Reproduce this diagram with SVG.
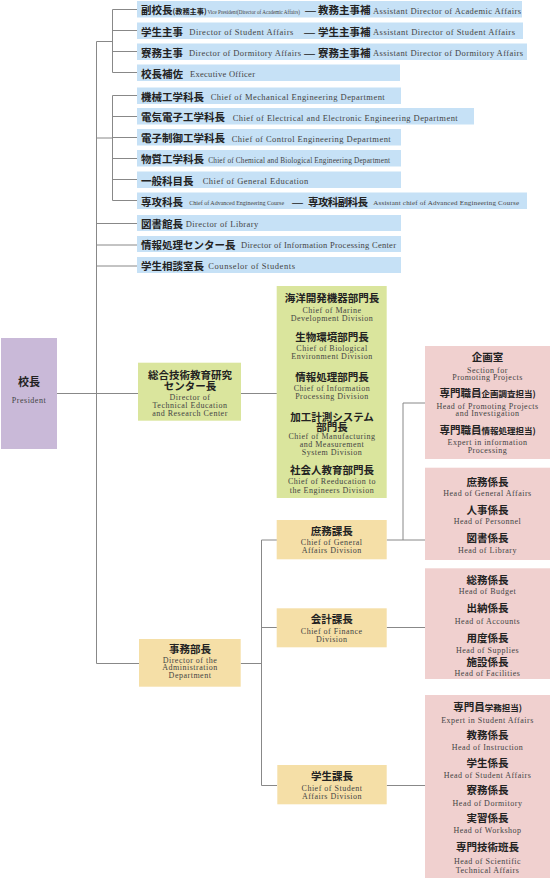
<svg xmlns="http://www.w3.org/2000/svg" width="550" height="879" viewBox="0 0 550 879">
<style>
.ln{stroke:#888;stroke-width:1;fill:none}
.bl{fill:#c6e1f6}
.pu{fill:#c9b9d8}
.gr{fill:#dae59d}
.or{fill:#f5dfa7}
.pk{fill:#f0d0cf}
.jp{font-family:"Noto Sans CJK JP","Noto Sans",sans-serif;font-size:10.5px;font-weight:bold;fill:#222}
.er{font-family:"Liberation Serif",serif;font-size:8.5px;fill:#444}
.sm{font-size:7px}
.en{font-family:"Liberation Serif",serif;font-size:8px;letter-spacing:0.5px;fill:#444;text-anchor:middle}
.dash{font-family:"Liberation Sans",sans-serif;font-size:11px;font-weight:normal}
.c{text-anchor:middle}
</style>
<g id="connectors">
<path class="ln" d="M112.5,9.5V72.5M112.5,9.5H137M112.5,30.5H137M112.5,51.5H137M112.5,72.5H137M96.5,41.5H112.5"/>
<path class="ln" d="M96.5,41.5V663.5"/>
<path class="ln" d="M112.5,95.5V200.5M112.5,95.5H137M112.5,116.5H137M112.5,137.5H137M112.5,158.5H137M112.5,179.5H137M112.5,200.5H137M96.5,138H112.5"/>
<path class="ln" d="M96.5,223.5H137M96.5,245H137M96.5,266H137"/>
<path class="ln" d="M57,393.5H277"/>
<path class="ln" d="M96.5,663.5H139M240.7,663.5H261.5M261.5,540V785.5M261.5,540H277M261.5,627.5H277M261.5,785.5H277"/>
<path class="ln" d="M386.7,540H425M403,403V540M403,403H425M386.7,627.5H425M386.7,785.5H425"/>
</g>
<g id="vice-president">
<rect class="bl" x="137" y="1" width="385" height="16.5"/>
<text class="jp" x="141" y="14">副校長<tspan style="font-size:7.2px">(教務主事)</tspan></text>
<text class="er sm" transform="translate(207.5,13.5) scale(0.73,1)" x="0" y="0">Vice President(Director of Academic Affairs)</text>
<text class="jp" x="305" y="14"><tspan class="dash">—</tspan><tspan dx="2">教務主事補</tspan></text>
<text class="er" x="373" y="13.5" textLength="148">Assistant Director of Academic Affairs</text>
</g>
<g id="student-affairs">
<rect class="bl" x="137" y="22.5" width="386" height="16.5"/>
<text class="jp" x="141" y="35.5">学生主事</text>
<text class="er" x="189.3" y="35" textLength="104">Director of Student Affairs</text>
<text class="jp" x="304" y="35.5"><tspan class="dash">—</tspan><tspan dx="3">学生主事補</tspan></text>
<text class="er" x="373" y="35" textLength="142">Assistant Director of Student Affairs</text>
</g>
<g id="dormitory-affairs">
<rect class="bl" x="137" y="43.5" width="390" height="16.5"/>
<text class="jp" x="141" y="56.5">寮務主事</text>
<text class="er" x="189" y="56" textLength="112">Director of Dormitory Affairs</text>
<text class="jp" x="304" y="56.5"><tspan class="dash">—</tspan><tspan dx="3">寮務主事補</tspan></text>
<text class="er" x="373" y="56" textLength="150">Assistant Director of Dormitory Affairs</text>
</g>
<g id="executive-officer">
<rect class="bl" x="137" y="64.5" width="263" height="16.5"/>
<text class="jp" x="141" y="77.5">校長補佐</text>
<text class="er" x="190" y="77" textLength="65">Executive Officer</text>
</g>
<g id="mechanical">
<rect class="bl" x="137" y="87.5" width="264" height="16.5"/>
<text class="jp" x="141" y="100.5">機械工学科長</text>
<text class="er" x="210.7" y="100" textLength="174">Chief of Mechanical Engineering Department</text>
</g>
<g id="electrical">
<rect class="bl" x="137" y="108" width="337" height="16.5"/>
<text class="jp" x="141" y="121">電気電子工学科長</text>
<text class="er" x="232.7" y="120.5" textLength="225">Chief of Electrical and Electronic Engineering Department</text>
</g>
<g id="control">
<rect class="bl" x="137" y="129" width="264" height="16.5"/>
<text class="jp" x="141" y="142">電子制御工学科長</text>
<text class="er" x="231.7" y="141.5" textLength="159">Chief of Control Engineering Department</text>
</g>
<g id="chemical">
<rect class="bl" x="137" y="150" width="264" height="16.5"/>
<text class="jp" x="141" y="163">物質工学科長</text>
<text class="er" style="font-size:7.3px" x="208.3" y="162.5" textLength="181.7">Chief of Chemical and Biological Engineering Department</text>
</g>
<g id="general-education">
<rect class="bl" x="137" y="171.5" width="264" height="16.5"/>
<text class="jp" x="141" y="184.5">一般科目長</text>
<text class="er" x="202.7" y="184" textLength="105.6">Chief of General Education</text>
</g>
<g id="advanced-course">
<rect class="bl" x="137" y="192.5" width="390" height="16.5"/>
<text class="jp" x="141" y="205.5">専攻科長</text>
<text class="er sm" transform="translate(189.3,205) scale(0.86,1)" x="0" y="0">Chief of Advanced Engineering Course</text>
<text class="jp" x="292" y="205.5"><tspan class="dash">—</tspan><tspan dx="5" textLength="60">専攻科副科長</tspan></text>
<text class="er sm" x="373.3" y="205" textLength="145.7">Assistant chief of Advanced Engineering Course</text>
</g>
<g id="library">
<rect class="bl" x="137" y="215" width="264" height="16"/>
<text class="jp" x="141" y="227.5">図書館長</text>
<text class="er" x="185.7" y="227" textLength="72.6">Director of Library</text>
</g>
<g id="info-center">
<rect class="bl" x="137" y="236" width="264" height="16"/>
<text class="jp" x="141" y="248.5">情報処理センター長</text>
<text class="er" x="241" y="248" textLength="155">Director of Information Processing Center</text>
</g>
<g id="counselor">
<rect class="bl" x="137" y="257" width="264" height="16"/>
<text class="jp" x="141" y="269.5">学生相談室長</text>
<text class="er" x="208.3" y="269" textLength="86.7">Counselor of Students</text>
</g>
<g id="president">
<rect class="pu" x="1" y="338" width="56" height="111"/>
<text class="jp c" style="font-size:11px" x="29" y="386">校長</text>
<text class="en" x="29" y="402.5">President</text>
</g>
<g id="tech-center">
<rect class="gr" x="138" y="362.7" width="103" height="58"/>
<text class="jp c" x="190" y="378.8">総合技術教育研究<tspan x="190" dy="11">センター長</tspan></text>
<text class="en" x="190" y="399.5">Director of</text>
<text class="en" x="190" y="407.5">Technical Education</text>
<text class="en" x="190" y="415.5">and Research Center</text>
</g>
<g id="tech-divisions">
<rect class="gr" x="276.7" y="286" width="110" height="212"/>
<text class="jp c" x="332" y="301.8">海洋開発機器部門長</text>
<text class="en" x="332" y="313.2">Chief of Marine</text>
<text class="en" x="332" y="320.5">Development Division</text>
<text class="jp c" x="332" y="340.5">生物環境部門長</text>
<text class="en" x="332" y="350.5">Chief of Biological</text>
<text class="en" x="332" y="358.5">Environment Division</text>
<text class="jp c" x="332" y="380.8">情報処理部門長</text>
<text class="en" x="332" y="390.5">Chief of Information</text>
<text class="en" x="332" y="399.2">Processing Division</text>
<text class="jp c" x="332" y="420.5">加工計測システム<tspan x="332" dy="10">部門長</tspan></text>
<text class="en" x="332" y="439.2">Chief of Manufacturing</text>
<text class="en" x="332" y="447.2">and Measurement</text>
<text class="en" x="332" y="455.2">System Division</text>
<text class="jp c" x="332" y="473.8">社会人教育部門長</text>
<text class="en" x="332" y="484.2">Chief of Reeducation to</text>
<text class="en" x="332" y="492.5">the Engineers Division</text>
</g>
<g id="planning-section">
<rect class="pk" x="425" y="346" width="125" height="113"/>
<text class="jp c" x="487.5" y="360.5">企画室</text>
<text class="en" x="487.5" y="372.5">Section for</text>
<text class="en" x="487.5" y="380.2">Promoting Projects</text>
<text class="jp c" x="487.5" y="397.1">専門職員<tspan style="font-size:8.5px">企画調査担当)</tspan></text>
<text class="en" x="487.5" y="408.5">Head of Promoting Projects</text>
<text class="en" x="487.5" y="415.8">and Investigation</text>
<text class="jp c" x="487.5" y="433.8">専門職員<tspan style="font-size:8.5px">情報処理担当)</tspan></text>
<text class="en" x="487.5" y="445.2">Expert in information</text>
<text class="en" x="487.5" y="452.5">Processing</text>
</g>
<g id="general-affairs-heads">
<rect class="pk" x="425" y="467.7" width="125" height="92.3"/>
<text class="jp c" x="487.5" y="485.5">庶務係長</text>
<text class="en" x="487.5" y="495.8">Head of General Affairs</text>
<text class="jp c" x="487.5" y="513.8">人事係長</text>
<text class="en" x="487.5" y="524.2">Head of Personnel</text>
<text class="jp c" x="487.5" y="542.1">図書係長</text>
<text class="en" x="487.5" y="552.5">Head of Library</text>
</g>
<g id="finance-heads">
<rect class="pk" x="425" y="568.3" width="125" height="110.7"/>
<text class="jp c" x="487.5" y="583.8">総務係長</text>
<text class="en" x="487.5" y="594.2">Head of Budget</text>
<text class="jp c" x="487.5" y="612.1">出納係長</text>
<text class="en" x="487.5" y="624.2">Head of Accounts</text>
<text class="jp c" x="487.5" y="641.5">用度係長</text>
<text class="en" x="487.5" y="652.5">Head of Supplies</text>
<text class="jp c" x="487.5" y="665.5">施設係長</text>
<text class="en" x="487.5" y="675.8">Head of Facilities</text>
</g>
<g id="student-affairs-heads">
<rect class="pk" x="425" y="695" width="125" height="183"/>
<text class="jp c" x="487.5" y="710.5">専門員<tspan style="font-size:8.5px">学務担当)</tspan></text>
<text class="en" x="487.5" y="723.2">Expert in Student Affairs</text>
<text class="jp c" x="487.5" y="738.8">教務係長</text>
<text class="en" x="487.5" y="749.8">Head of Instruction</text>
<text class="jp c" x="487.5" y="766.5">学生係長</text>
<text class="en" x="487.5" y="777.5">Head of Student Affairs</text>
<text class="jp c" x="487.5" y="793.8">寮務係長</text>
<text class="en" x="487.5" y="805.8">Head of Dormitory</text>
<text class="jp c" x="487.5" y="822.1">実習係長</text>
<text class="en" x="487.5" y="832.5">Head of Workshop</text>
<text class="jp c" x="487.5" y="850.5">専門技術班長</text>
<text class="en" x="487.5" y="864.2">Head of Scientific</text>
<text class="en" x="487.5" y="872.5">Technical Affairs</text>
</g>
<g id="general-affairs-division">
<rect class="or" x="276.7" y="520" width="110" height="39.3"/>
<text class="jp c" x="331.7" y="534.5">庶務課長</text>
<text class="en" x="331.7" y="544.8">Chief of General</text>
<text class="en" x="331.7" y="552.5">Affairs Division</text>
</g>
<g id="finance-division">
<rect class="or" x="276.7" y="608.3" width="110" height="39"/>
<text class="jp c" x="331.7" y="623.1">会計課長</text>
<text class="en" x="331.7" y="634.2">Chief of Finance</text>
<text class="en" x="331.7" y="641.8">Division</text>
</g>
<g id="administration">
<rect class="or" x="139" y="639" width="101.7" height="47.7"/>
<text class="jp c" x="190" y="653.1">事務部長</text>
<text class="en" x="190" y="662.5">Director of the</text>
<text class="en" x="190" y="670.2">Administration</text>
<text class="en" x="190" y="678.2">Department</text>
</g>
<g id="student-affairs-division">
<rect class="or" x="277.3" y="765" width="109.4" height="39.3"/>
<text class="jp c" x="332" y="779.8">学生課長</text>
<text class="en" x="332" y="790.8">Chief of Student</text>
<text class="en" x="332" y="798.5">Affairs Division</text>
</g>
</svg>
